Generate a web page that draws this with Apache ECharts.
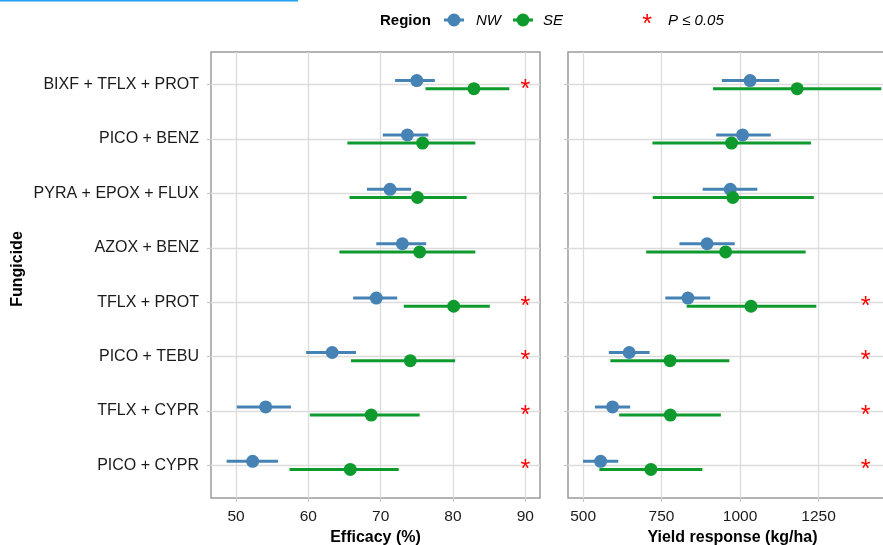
<!DOCTYPE html>
<html><head><meta charset="utf-8">
<script src="https://cdn.jsdelivr.net/npm/echarts@6/dist/echarts.min.js"></script>
<style>html,body{margin:0;padding:0;background:#fff}#c{width:883px;height:545px}</style>
</head><body><div id="c"></div>
<script>
const categories = ['BIXF + TFLX + PROT','PICO + BENZ','PYRA + EPOX + FLUX','AZOX + BENZ','TFLX + PROT','PICO + TEBU','TFLX + CYPR','PICO + CYPR'];
const effTicks = [50, 60, 70, 80, 90];
const yldTicks = [500, 750, 1000, 1250];

const effNW   = [75.0, 73.7, 71.3, 73.0, 69.4, 63.3, 54.1, 52.3];
const effNWlo = [72.0, 70.3, 68.1, 69.4, 66.2, 59.7, 50.1, 48.7];
const effNWhi = [77.5, 76.6, 74.2, 76.3, 72.3, 66.6, 57.6, 55.8];
const effSE   = [82.9, 75.8, 75.1, 75.4, 80.1, 74.1, 68.7, 65.8];
const effSElo = [76.2, 65.4, 65.7, 64.3, 73.2, 65.9, 60.2, 57.4];
const effSEhi = [87.8, 83.1, 81.9, 83.1, 85.1, 80.3, 75.4, 72.5];

const yldNW   = [1032, 1008, 969, 895, 834, 647, 594, 556];
const yldNWlo = [942, 924, 881, 807, 762, 582, 538, 500];
const yldNWhi = [1125, 1098, 1055, 983, 905, 712, 650, 612];
const yldSE   = [1182, 973, 977, 954, 1035, 777, 778, 716];
const yldSElo = [914, 721, 722, 701, 830, 587, 615, 552];
const yldSEhi = [1450, 1226, 1235, 1209, 1243, 966, 939, 880];

const sigEff = [true, false, false, false, true, true, true, true];
const sigYld = [false, false, false, false, true, true, true, true];
const sigEffX = 90;
const sigYldX = 1400;

const BLUE = '#4682b4', GREEN = '#0f9a2e';
const FONT = 'Liberation Sans, Arial, sans-serif';
const DODGE = 0.075;
const rows = categories.map((_, i) => i + 1);
const STAR_FONT = '25px ' + FONT;

function pr(mean, lo, hi, off) {
  return mean.map((m, i) => [m, lo[i], hi[i], rows[i] + off]);
}
function makeRender(color) {
  return function (params, api) {
    const y = api.value(3);
    const a = api.coord([api.value(1), y]);
    const b = api.coord([api.value(2), y]);
    const c = api.coord([api.value(0), y]);
    return {type: 'group', children: [
      {type: 'line', shape: {x1: a[0], y1: a[1], x2: b[0], y2: b[1]}, style: {stroke: color, lineWidth: 3}},
      {type: 'circle', shape: {cx: c[0], cy: c[1], r: 6.5}, style: {fill: color}}
    ]};
  };
}
function starRender(params, api) {
  const c = api.coord([api.value(0), api.value(1)]);
  return {type: 'text', x: c[0], y: c[1] + 5, style: {text: '*', fill: '#ff0000', font: STAR_FONT, align: 'center', verticalAlign: 'middle'}};
}
function stars(sig, x) {
  const d = [];
  sig.forEach((s, i) => { if (s) d.push([x, rows[i]]); });
  return d;
}

const gridLine = {show: true, lineStyle: {color: '#dcdcdc', width: 1.3}};
const tick = {show: true, length: 4, lineStyle: {color: '#c8c8c8', width: 1.2}};
function yAx(idx, showLabels) {
  return {
    type: 'value', gridIndex: idx, min: 0.4, max: 8.6, inverse: true,
    axisLine: {show: false}, axisTick: Object.assign({customValues: rows}, tick),
    splitLine: gridLine,
    axisLabel: {show: showLabels, customValues: rows, margin: 12, fontSize: 16, color: '#1a1a1a', fontFamily: FONT,
      formatter: v => categories[Math.round(v) - 1] || ''}
  };
}
function xAx(idx, min, max, ticks, name) {
  return {
    type: 'value', gridIndex: idx, min: min, max: max,
    axisLine: {show: false}, axisTick: Object.assign({customValues: ticks}, tick),
    splitLine: gridLine,
    axisLabel: {customValues: ticks, margin: 11, fontSize: 15.5, color: '#1a1a1a', fontFamily: FONT, formatter: v => String(v)},
    name: name, nameLocation: 'middle', nameGap: 31,
    nameTextStyle: {fontSize: 16, fontWeight: 'bold', color: '#000', fontFamily: FONT}
  };
}

const chart = echarts.init(document.getElementById('c'), null, {renderer: 'canvas'});
chart.setOption({
  animation: false,
  backgroundColor: '#fff',
  grid: [
    {left: 211, top: 52, width: 329, height: 446, outerBoundsMode: 'none', containLabel: false, show: true, borderColor: '#9a9a9a', borderWidth: 1.5, backgroundColor: 'transparent'},
    {left: 568, top: 52, width: 329, height: 446, outerBoundsMode: 'none', containLabel: false, show: true, borderColor: '#9a9a9a', borderWidth: 1.5, backgroundColor: 'transparent'}
  ],
  xAxis: [
    xAx(0, 46.54, 92.04, effTicks, 'Efficacy (%)'),
    xAx(1, 452, 1500, yldTicks, 'Yield response (kg/ha)')
  ],
  yAxis: [yAx(0, true), yAx(1, false)],
  series: [
    {type: 'custom', xAxisIndex: 0, yAxisIndex: 0, renderItem: makeRender(BLUE), data: pr(effNW, effNWlo, effNWhi, -DODGE), encode: {x: [0, 1, 2], y: 3}},
    {type: 'custom', xAxisIndex: 0, yAxisIndex: 0, renderItem: makeRender(GREEN), data: pr(effSE, effSElo, effSEhi, DODGE), encode: {x: [0, 1, 2], y: 3}},
    {type: 'custom', xAxisIndex: 0, yAxisIndex: 0, renderItem: starRender, data: stars(sigEff, sigEffX), encode: {x: 0, y: 1}},
    {type: 'custom', xAxisIndex: 1, yAxisIndex: 1, renderItem: makeRender(BLUE), data: pr(yldNW, yldNWlo, yldNWhi, -DODGE), encode: {x: [0, 1, 2], y: 3}},
    {type: 'custom', xAxisIndex: 1, yAxisIndex: 1, renderItem: makeRender(GREEN), data: pr(yldSE, yldSElo, yldSEhi, DODGE), encode: {x: [0, 1, 2], y: 3}},
    {type: 'custom', xAxisIndex: 1, yAxisIndex: 1, renderItem: starRender, data: stars(sigYld, sigYldX), encode: {x: 0, y: 1}}
  ],
  graphic: [
    {type: 'rect', left: 0, top: 0, shape: {width: 298, height: 1.5}, style: {fill: '#1ea0ee'}},
    {type: 'text', x: 18, y: 269, rotation: Math.PI / 2, style: {text: 'Fungicide', font: 'bold 16px ' + FONT, fill: '#000', align: 'center', verticalAlign: 'middle'}},
    {type: 'text', x: 380, y: 21, style: {text: 'Region', font: 'bold 15px ' + FONT, fill: '#000', align: 'left', verticalAlign: 'middle'}},
    {type: 'line', shape: {x1: 444, y1: 20, x2: 464, y2: 20}, style: {stroke: BLUE, lineWidth: 3}},
    {type: 'circle', shape: {cx: 454, cy: 20, r: 6.5}, style: {fill: BLUE}},
    {type: 'text', x: 476, y: 21, style: {text: 'NW', font: 'italic 15px ' + FONT, fill: '#000', align: 'left', verticalAlign: 'middle'}},
    {type: 'line', shape: {x1: 513, y1: 20, x2: 533, y2: 20}, style: {stroke: GREEN, lineWidth: 3}},
    {type: 'circle', shape: {cx: 523, cy: 20, r: 6.5}, style: {fill: GREEN}},
    {type: 'text', x: 543, y: 21, style: {text: 'SE', font: 'italic 15px ' + FONT, fill: '#000', align: 'left', verticalAlign: 'middle'}},
    {type: 'text', x: 647, y: 25, style: {text: '*', font: STAR_FONT, fill: '#ff0000', align: 'center', verticalAlign: 'middle'}},
    {type: 'text', x: 668, y: 21, style: {text: 'P \u2264 0.05', font: 'italic 15px ' + FONT, fill: '#000', align: 'left', verticalAlign: 'middle'}}
  ]
});
</script></body></html>
